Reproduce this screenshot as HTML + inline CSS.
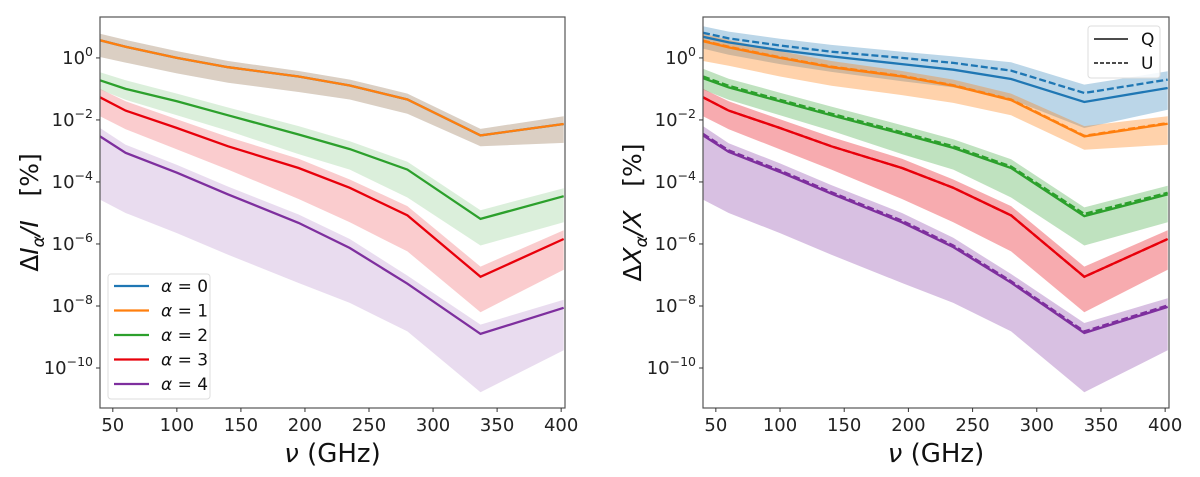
<!DOCTYPE html>
<html><head><meta charset="utf-8"><style>
body{margin:0;background:#fff;}
svg{display:block;font-family:"DejaVu Sans","Liberation Sans",sans-serif;}
</style></head><body>
<svg id="fig" width="1200" height="477" xmlns="http://www.w3.org/2000/svg"></svg>
<script>
const freqs=[40,60,100,140,195,235,280,337,402];
const xTicks=[50,100,150,200,250,300,350,400];
const yTicks=[0,-2,-4,-6,-8,-10];
const colors=['#1f77b4','#ff7f0e','#2ca02c','#e8000b','#7e2f9e'];
// left panel (log10 of %)
const I0c=[0.57,0.36,0.0,-0.3,-0.6,-0.89,-1.34,-2.5,-2.13];
const I1c=[0.57,0.36,0.0,-0.3,-0.6,-0.89,-1.34,-2.5,-2.13];
const I1hi=[0.78,0.58,0.22,-0.1,-0.42,-0.7,-1.15,-2.29,-1.88];
const I1lo=[0.03,-0.15,-0.5,-0.8,-1.1,-1.34,-1.8,-2.85,-2.74];
const I2c=[-0.72,-1.0,-1.4,-1.85,-2.47,-2.94,-3.6,-5.19,-4.46];
const I2hi=[-0.46,-0.72,-1.15,-1.6,-2.2,-2.69,-3.35,-4.91,-4.2];
const I2lo=[-1.02,-1.35,-1.85,-2.35,-3.1,-3.6,-4.5,-6.05,-5.3];
const I3c=[-1.27,-1.7,-2.26,-2.85,-3.55,-4.19,-5.08,-7.06,-5.84];
const I3hi=[-1.0,-1.4,-1.98,-2.55,-3.25,-3.92,-4.78,-6.73,-5.56];
const I3lo=[-1.88,-2.3,-2.95,-3.6,-4.55,-5.3,-6.24,-8.2,-6.83];
const I4c=[-2.53,-3.06,-3.7,-4.4,-5.32,-6.13,-7.28,-8.9,-8.06];
const I4hi=[-2.26,-2.8,-3.45,-4.15,-5.05,-5.84,-7.02,-8.6,-7.8];
const I4lo=[-4.57,-5.0,-5.65,-6.35,-7.26,-7.9,-8.82,-10.78,-9.43];
// right panel
const X0Q=[0.68,0.5,0.25,0.05,-0.2,-0.38,-0.68,-1.42,-0.97];
const X0U=[0.81,0.63,0.4,0.2,0.0,-0.16,-0.41,-1.13,-0.7];
const X0hi=[1.02,0.85,0.62,0.42,0.2,0.05,-0.14,-0.86,-0.43];
const X0lo=[0.3,0.1,-0.2,-0.45,-0.75,-0.95,-1.34,-2.26,-1.67];
const X1Q=[0.54,0.34,0.0,-0.3,-0.6,-0.9,-1.36,-2.53,-2.12];
const X1U=[0.56,0.36,0.02,-0.28,-0.58,-0.88,-1.34,-2.51,-2.1];
const X1hi=[0.78,0.58,0.22,-0.1,-0.42,-0.7,-1.15,-2.2,-1.88];
const X1lo=[-0.1,-0.25,-0.6,-0.9,-1.2,-1.45,-1.85,-2.96,-2.8];
const X2Q=[-0.65,-0.95,-1.4,-1.85,-2.45,-2.9,-3.55,-5.1,-4.4];
const X2U=[-0.6,-0.9,-1.35,-1.8,-2.4,-2.85,-3.5,-5.03,-4.35];
const X2hi=[-0.35,-0.67,-1.12,-1.57,-2.17,-2.62,-3.27,-4.82,-4.12];
const X2lo=[-1.02,-1.35,-1.85,-2.35,-3.1,-3.6,-4.5,-6.05,-5.3];
const X3Q=[-1.27,-1.7,-2.26,-2.85,-3.55,-4.19,-5.08,-7.06,-5.84];
const X3U=[-1.27,-1.7,-2.26,-2.85,-3.55,-4.19,-5.08,-7.06,-5.84];
const X3hi=[-1.0,-1.4,-1.98,-2.55,-3.25,-3.92,-4.78,-6.73,-5.56];
const X3lo=[-1.88,-2.3,-2.95,-3.6,-4.55,-5.3,-6.24,-8.2,-6.83];
const X4Q=[-2.5,-3.03,-3.68,-4.38,-5.3,-6.1,-7.25,-8.87,-8.03];
const X4U=[-2.45,-2.98,-3.63,-4.33,-5.25,-6.05,-7.2,-8.82,-7.98];
const X4hi=[-2.2,-2.75,-3.4,-4.1,-5.0,-5.8,-6.97,-8.55,-7.75];
const X4lo=[-4.57,-5.0,-5.65,-6.35,-7.26,-7.9,-8.82,-10.78,-9.43];

const NS='http://www.w3.org/2000/svg';
const svg=document.getElementById('fig');
function mk(tag,attrs,parent){const e=document.createElementNS(NS,tag);for(const k in attrs)e.setAttribute(k,attrs[k]);(parent||svg).appendChild(e);return e;}

function panel(x0,x1,yTop,yBot,id){
  const g=mk('g',{});
  
  
  const xmin=40,xmax=403,ymax=1.32,ymin=-11.29;
  const sx=v=>x0+(v-xmin)/(xmax-xmin)*(x1-x0);
  const sy=v=>yTop+(ymax-v)/(ymax-ymin)*(yBot-yTop);
  const clipId='clip-'+id;
  const cp=mk('clipPath',{id:clipId},g);mk('rect',{x:x0,y:yTop,width:x1-x0,height:yBot-yTop},cp);
  const plot=mk('g',{'clip-path':'url(#'+clipId+')'},g);
  return {g,plot,sx,sy,x0,x1,yTop,yBot};
}
function band(P,hi,lo,color,op,name){
  let d='';
  freqs.forEach((f,i)=>{d+=(i?'L':'M')+P.sx(f).toFixed(1)+','+P.sy(hi[i]).toFixed(1);});
  for(let i=freqs.length-1;i>=0;i--)d+='L'+P.sx(freqs[i]).toFixed(1)+','+P.sy(lo[i]).toFixed(1);
  const p=mk('path',{d:d+'Z',fill:color,'fill-opacity':op,stroke:'none'},P.plot);
  
  
}
function line(P,vals,color,dash,name){
  const pts=freqs.map((f,i)=>P.sx(f).toFixed(1)+','+P.sy(vals[i]).toFixed(1)).join(' ');
  const a={points:pts,fill:'none',stroke:color,'stroke-width':2.3};
  if(dash)a['stroke-dasharray']='7,3';
  const p=mk('polyline',a,P.plot);
  
  
}
function axes(P,ylabelMain,id){
  const fr=mk('rect',{x:P.x0,y:P.yTop,width:P.x1-P.x0,height:P.yBot-P.yTop,fill:'none',stroke:'#555','stroke-width':1.2},P.g);
  
  
  xTicks.forEach(t=>{
    const x=P.sx(t);
    mk('line',{x1:x,x2:x,y1:P.yBot,y2:P.yBot+4,stroke:'#333','stroke-width':1},P.g);
    const tx=mk('text',{x:x,y:P.yBot+23,'font-size':18,'text-anchor':'middle',fill:'#222'},P.g);
    tx.textContent=t;
    
    
  });
  yTicks.forEach(t=>{
    const y=P.sy(t);
    mk('line',{x1:P.x0-4,x2:P.x0,y1:y,y2:y,stroke:'#333','stroke-width':1},P.g);
    const tx=mk('text',{x:P.x0-7,y:y+6,'font-size':18,'text-anchor':'end',fill:'#222'},P.g);
    const b=mk('tspan',{},tx);b.textContent='10';
    const s=mk('tspan',{dy:-8,'font-size':12.5},tx);s.textContent=(t===0?'0':'\u2212'+(-t));
    
    
  });
  const xl=mk('text',{x:(P.x0+P.x1)/2,y:P.yBot+54,'font-size':26,'text-anchor':'middle',fill:'#111'},P.g);
  xl.innerHTML='<tspan font-style="italic">ν</tspan> (GHz)';
  
  
  const yl=mk('text',{x:0,y:0,'font-size':25,'text-anchor':'middle',fill:'#111',transform:'translate('+(P.x0-62)+','+((P.yTop+P.yBot)/2)+') rotate(-90)'},P.g);
  yl.innerHTML=ylabelMain;
  
  
}

// LEFT
const L=panel(100,565,17,408,'left');
band(L,I1hi,I1lo,colors[0],0.2,'band-alpha0');
band(L,I1hi,I1lo,colors[1],0.2,'band-alpha1');
band(L,I2hi,I2lo,colors[2],0.17,'band-alpha2');
band(L,I3hi,I3lo,colors[3],0.2,'band-alpha3');
band(L,I4hi,I4lo,colors[4],0.17,'band-alpha4');
line(L,I0c,colors[0],false,'line-alpha0');
line(L,I1c,colors[1],false,'line-alpha1');
line(L,I2c,colors[2],false,'line-alpha2');
line(L,I3c,colors[3],false,'line-alpha3');
line(L,I4c,colors[4],false,'line-alpha4');
axes(L,'Δ<tspan font-style="italic">I</tspan><tspan font-style="italic" font-size="17" dy="6">α</tspan><tspan dy="-6" font-style="italic">/I</tspan>\u00a0\u00a0\u00a0[%]','left');

// left legend
const lg=mk('g',{});


mk('rect',{x:108,y:274,width:102,height:125,rx:3,fill:'#fff','fill-opacity':0.85,stroke:'#ddd'},lg);
[0,1,2,3,4].forEach(i=>{
  const y=286+i*24.5;
  const e=mk('g',{},lg);
  
  
  mk('line',{x1:114,x2:149,y1:y,y2:y,stroke:colors[i],'stroke-width':2.3},e);
  const t=mk('text',{x:161,y:y+6,'font-size':17,fill:'#111'},e);
  t.innerHTML='<tspan font-style="italic">α</tspan> = '+i;
});

// RIGHT
const R=panel(703,1169,17,408,'right');
band(R,X0hi,X0lo,colors[0],0.3,'band-alpha0');
band(R,X1hi,X1lo,colors[1],0.35,'band-alpha1');
band(R,X2hi,X2lo,colors[2],0.3,'band-alpha2');
band(R,X3hi,X3lo,colors[3],0.33,'band-alpha3');
band(R,X4hi,X4lo,colors[4],0.3,'band-alpha4');
line(R,X0Q,colors[0],false,'q-line-alpha0');line(R,X0U,colors[0],true,'u-line-alpha0');
line(R,X1Q,colors[1],false,'q-line-alpha1');line(R,X1U,colors[1],true,'u-line-alpha1');
line(R,X2Q,colors[2],false,'q-line-alpha2');line(R,X2U,colors[2],true,'u-line-alpha2');
line(R,X3Q,colors[3],false,'q-line-alpha3');line(R,X3U,colors[3],true,'u-line-alpha3');
line(R,X4Q,colors[4],false,'q-line-alpha4');line(R,X4U,colors[4],true,'u-line-alpha4');
axes(R,'Δ<tspan font-style="italic">X</tspan><tspan font-style="italic" font-size="17" dy="6">α</tspan><tspan dy="-6" font-style="italic">/X</tspan>\u00a0\u00a0\u00a0[%]','right');

const rg=mk('g',{});


mk('rect',{x:1088,y:26,width:72,height:52,rx:3,fill:'#fff','fill-opacity':0.85,stroke:'#ddd'},rg);
[['Q',false,39],['U',true,63]].forEach(([n,d,y])=>{
  const e=mk('g',{},rg);
  
  
  const a={x1:1094,x2:1128,y1:y,y2:y,stroke:'#111','stroke-width':1.5};
  if(d)a['stroke-dasharray']='4,2';
  mk('line',a,e);
  const t=mk('text',{x:1141,y:y+6,'font-size':17,fill:'#111'},e);t.textContent=n;
});
</script>
</body></html>
